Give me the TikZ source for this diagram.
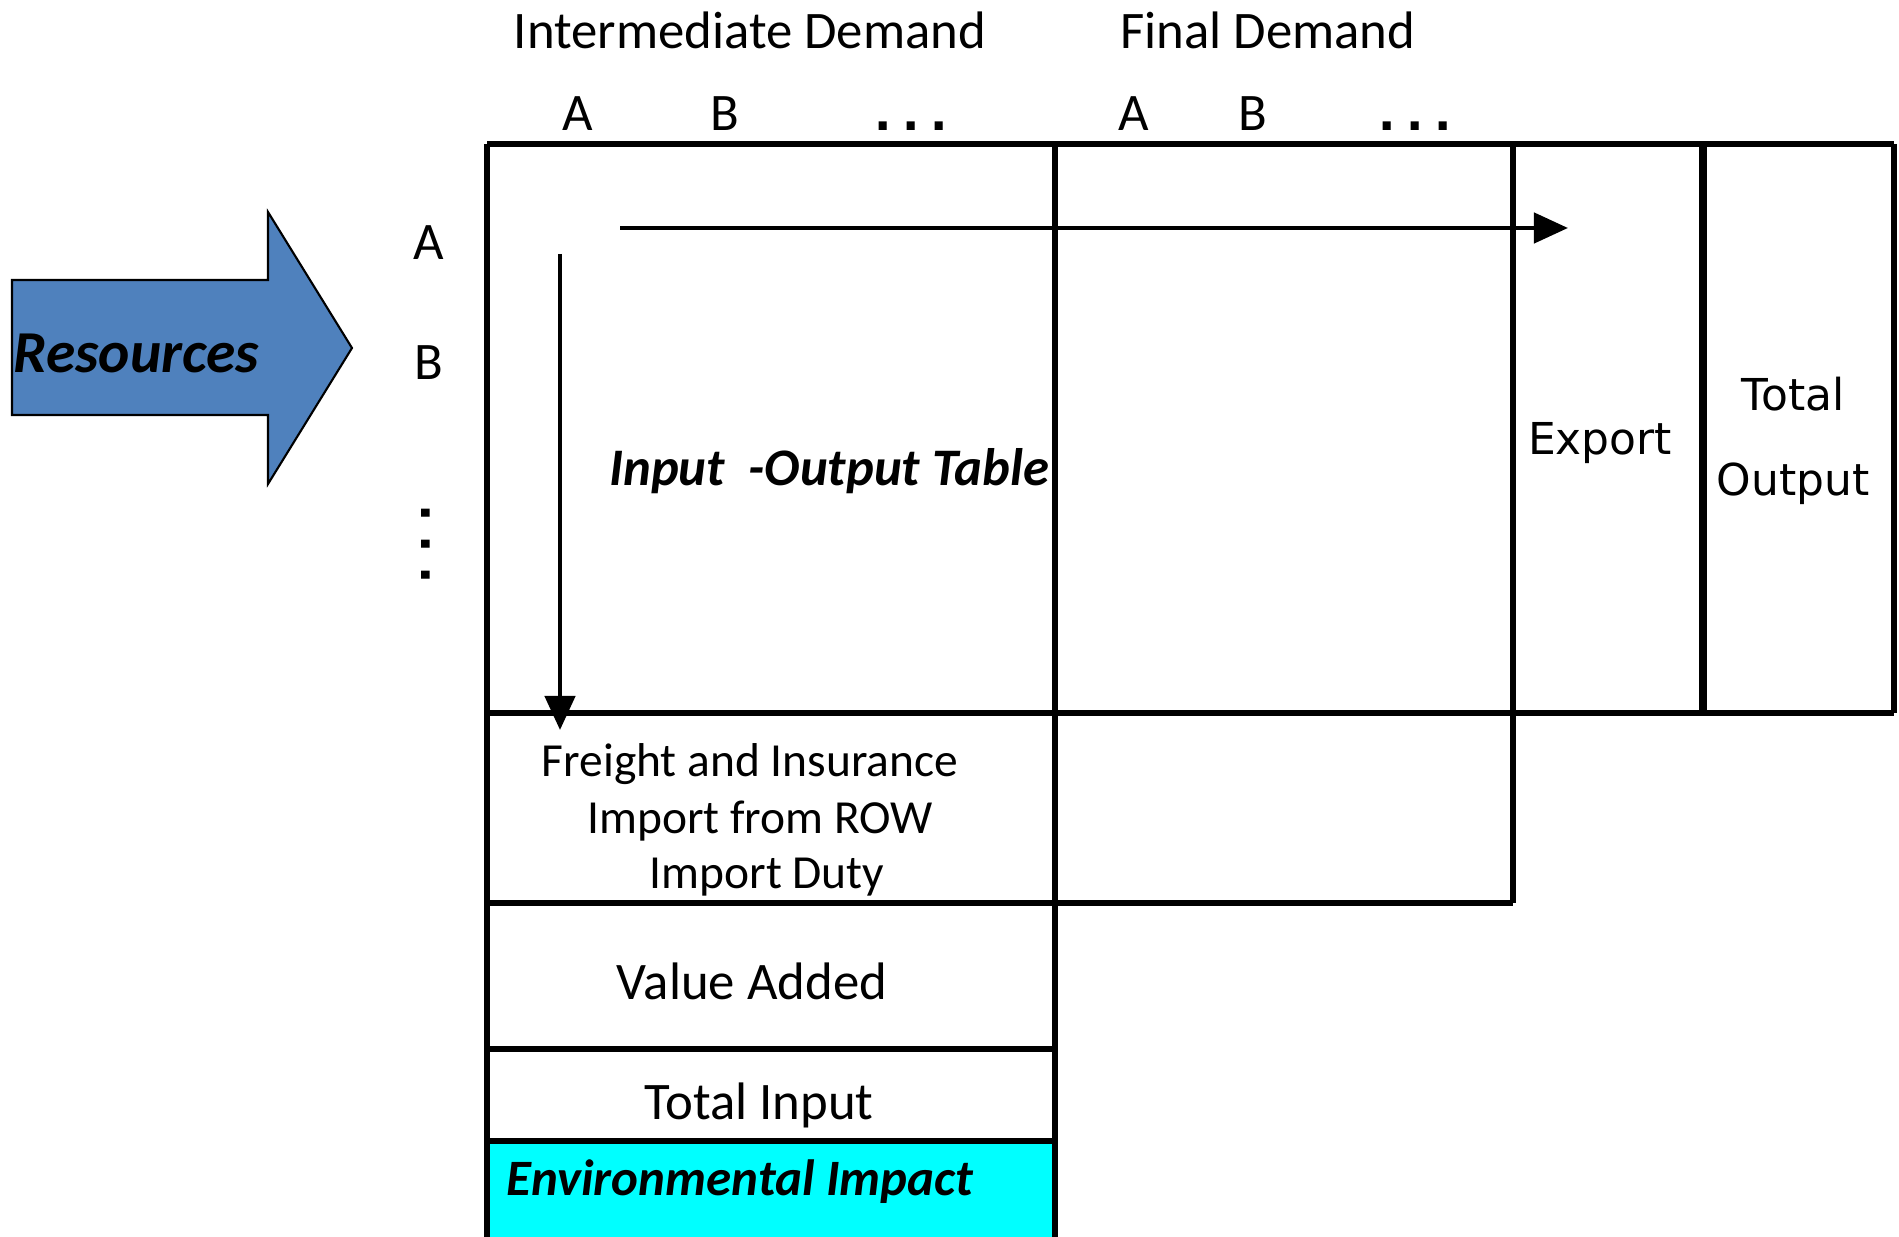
\documentclass[tikz,border=0pt]{standalone}
\usepackage{fontspec}
\setmainfont{Carlito}
\newfontfamily\boxfont{DejaVu Sans}
\usepackage{xcolor}
\usepackage{tikz}
\usetikzlibrary{arrows.meta,positioning}
\definecolor{resblue}{HTML}{4F81BD}
\definecolor{envcyan}{HTML}{00FFFF}

\begin{document}
\begin{tikzpicture}[x=0.01cm, y=-0.01cm,
  grid/.style={line width=1.6pt},
  flow/.style={line width=1.3pt, -{Triangle[length=0.34cm, width=0.3cm]}},
  txt/.style={inner sep=0pt, font=\fontsize{15pt}{18pt}\selectfont},
  bigtxt/.style={inner sep=0pt, font=\fontsize{15pt}{18pt}\selectfont\bfseries\itshape},
  dots/.style={inner sep=0pt, anchor=base, font=\fontsize{13pt}{18pt}\selectfont\boxfont\bfseries},
  side/.style={inner sep=0pt, align=center, font=\fontsize{12.5pt}{24pt}\selectfont\boxfont}]
  \useasboundingbox (0,0) rectangle (1899,1237);
  % Resources arrow
  \draw[fill=resblue, line width=0.6pt] (12,280) -- (268,280) -- (268,212) -- (352,348)
    -- (268,484) -- (268,415) -- (12,415) -- cycle;
  \node[bigtxt, anchor=west, font=\fontsize{16.9pt}{18pt}\selectfont\bfseries\itshape]
    (res) at (13,353) {Resources};
  % Column headers
  \node[txt] (interm) at (750,30) {Intermediate Demand};
  \node[txt] (final) at (1268,30) {Final Demand};
  \node[txt] (colA) at (578,114) {A};
  \node[txt] (colB) at (725,114) {B};
  \node[dots] (coldots) at (911,131) {.\hspace{3pt}.\hspace{3pt}.};
  \node[txt] (fcolA) at (1134,114) {A};
  \node[txt] (fcolB) at (1253,114) {B};
  \node[dots] (fcoldots) at (1415,131) {.\hspace{3pt}.\hspace{3pt}.};
  % Row labels
  \node[txt] (rowA) at (429,243) {A};
  \node[txt] (rowB) at (429,363) {B};
  \node[dots, anchor=center, rotate=-90] (rowdots) at (426,544) {.\hspace{3.9pt}.\hspace{3.9pt}.};
  % Environmental impact row (filled first)
  \draw[grid, fill=envcyan] (487,1141) rectangle (1055,1245);
  % Table lines
  \draw[grid] (487,144) -- (1894,144);
  \draw[grid] (487,713) -- (1894,713);
  \draw[grid] (487,903) -- (1513,903);
  \draw[grid] (487,1049) -- (1055,1049);
  \draw[grid] (487,144) -- (487,1245);
  \draw[grid] (1055,144) -- (1055,1245);
  \draw[grid] (1513,144) -- (1513,903);
  \draw[grid] (1894,144) -- (1894,713);
  \draw[line width=2.2pt] (1703,144) -- (1703,713);
  % Cell texts
  \node[bigtxt] (iotable) at (829,471) {Input \ -Output Table};
  \node[side] (export) at (1600,443) {Export};
  \node[side] (totout) at (1793,441) {Total\\Output};
  \node[txt, font=\fontsize{13.5pt}{16pt}\selectfont] (freight) at (750,764) {Freight and Insurance};
  \node[txt, font=\fontsize{13.5pt}{16pt}\selectfont] (importrow) at (760,821) {Import from ROW};
  \node[txt, font=\fontsize{13.5pt}{16pt}\selectfont] (duty) at (767,877) {Import Duty};
  \node[txt] (valadd) at (752,981) {Value Added};
  \node[txt] (totin) at (759,1105) {Total Input};
  \node[bigtxt, anchor=west, font=\fontsize{14.5pt}{18pt}\selectfont\bfseries\itshape]
    (envimp) at (506,1182) {Environmental Impact};
  % Flow arrows
  \coordinate (rowstart) at (620,228);
  \coordinate (rowend) at (1568,228);
  \coordinate (colstart) at (560,254);
  \coordinate (colend) at (560,730);
  \draw[flow] (rowstart) -- (rowend);
  \draw[flow] (colstart) -- (colend);
\end{tikzpicture}
\end{document}
